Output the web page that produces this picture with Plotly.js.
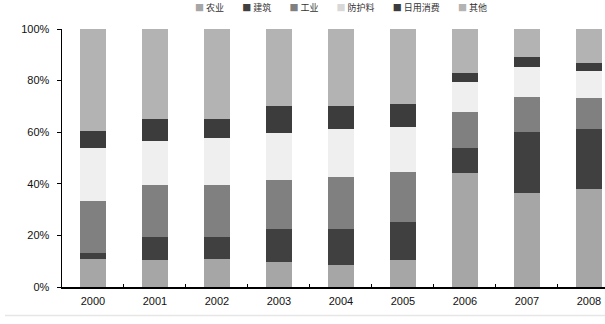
<!DOCTYPE html>
<html>
<head>
<meta charset="utf-8">
<script src="https://cdn.plot.ly/plotly-3.0.1.min.js"></script>
<style>
html,body{margin:0;padding:0;background:#fff;}
#chart{width:605px;height:324px;}
</style>
</head>
<body>
<div id="chart"></div>
<script>
const years = ["2000","2001","2002","2003","2004","2005","2006","2007","2008"];
const seriesNames = ["农业","建筑","工业","防护料","日用消费","其他"];
const seriesColors = ["#a6a6a6","#404040","#808080","#efefef","#3c3c3c","#b3b3b3"];
const s1 = [11.0, 10.4, 11.0, 9.5, 8.7, 10.4, 44.1, 36.5, 38.0];
const s2 = [2.0, 8.8, 8.2, 12.8, 13.6, 14.9, 9.7, 23.7, 23.1];
const s3 = [20.3, 20.3, 20.3, 19.2, 20.2, 19.4, 14.2, 13.6, 12.1];
const s4 = [20.5, 17.2, 18.1, 18.1, 18.8, 17.5, 11.3, 11.3, 10.6];
const s5 = [6.7, 8.3, 7.4, 10.6, 8.9, 8.8, 3.8, 3.9, 3.0];
const s6 = [39.5, 35.0, 35.0, 29.8, 29.8, 29.0, 16.9, 11.0, 13.2];
const yTickVals = [0, 20, 40, 60, 80, 100];
const yTickText = ["0%", "20%", "40%", "60%", "80%", "100%"];

const allSeries = [s1, s2, s3, s4, s5, s6];
const traces = allSeries.map((vals, i) => ({
  type: "bar",
  name: seriesNames[i],
  x: years,
  y: vals,
  marker: {color: seriesColors[i], line: {width: 0}},
  showlegend: false,
  hoverinfo: "x+y+name"
}));

const gap = '&nbsp;&nbsp;&nbsp;&nbsp;&nbsp;&nbsp;&nbsp;&nbsp;&nbsp;';
const legendText = seriesNames.map((n, i) =>
  '<span style="color:' + (i === 3 ? '#d8d8d8' : seriesColors[i]) + '">■</span>&nbsp;' + n
).join(gap);

const layout = {
  width: 605,
  height: 324,
  margin: {l: 62, r: 0, t: 29, b: 37, pad: 0},
  paper_bgcolor: "#ffffff",
  plot_bgcolor: "#ffffff",
  barmode: "stack",
  bargap: 0.59,
  font: {family: "Liberation Sans, Arial, sans-serif", size: 11, color: "#111"},
  xaxis: {
    type: "category",
    range: [-0.5, 8.26],
    showline: true,
    linecolor: "#000",
    linewidth: 1.5,
    ticks: "inside",
    ticklen: 3,
    tickcolor: "#000",
    tickson: "boundaries",
    showgrid: false,
    zeroline: false,
    ticklabelstandoff: 3,
    tickfont: {size: 11, color: "#111"}
  },
  yaxis: {
    range: [0, 100],
    tickvals: yTickVals,
    ticktext: yTickText,
    showline: true,
    linecolor: "#000",
    linewidth: 1.5,
    ticks: "outside",
    ticklen: 4,
    tickcolor: "#000",
    showgrid: false,
    zeroline: false,
    ticklabelstandoff: 5,
    tickfont: {size: 11, color: "#111"}
  },
  annotations: [{
    xref: "paper", yref: "paper",
    x: 0.514, y: 1.085,
    xanchor: "center", yanchor: "middle",
    text: legendText,
    showarrow: false,
    font: {family: "Noto Sans CJK SC, sans-serif", size: 9, color: "#333"}
  }],
  shapes: [{
    type: "line", xref: "paper", yref: "paper",
    x0: -0.105, x1: 1.0, y0: -0.11, y1: -0.11,
    line: {color: "#e6e6e6", width: 1.5}
  }]
};

Plotly.newPlot("chart", traces, layout, {displayModeBar: false, staticPlot: true});
</script>
</body>
</html>
